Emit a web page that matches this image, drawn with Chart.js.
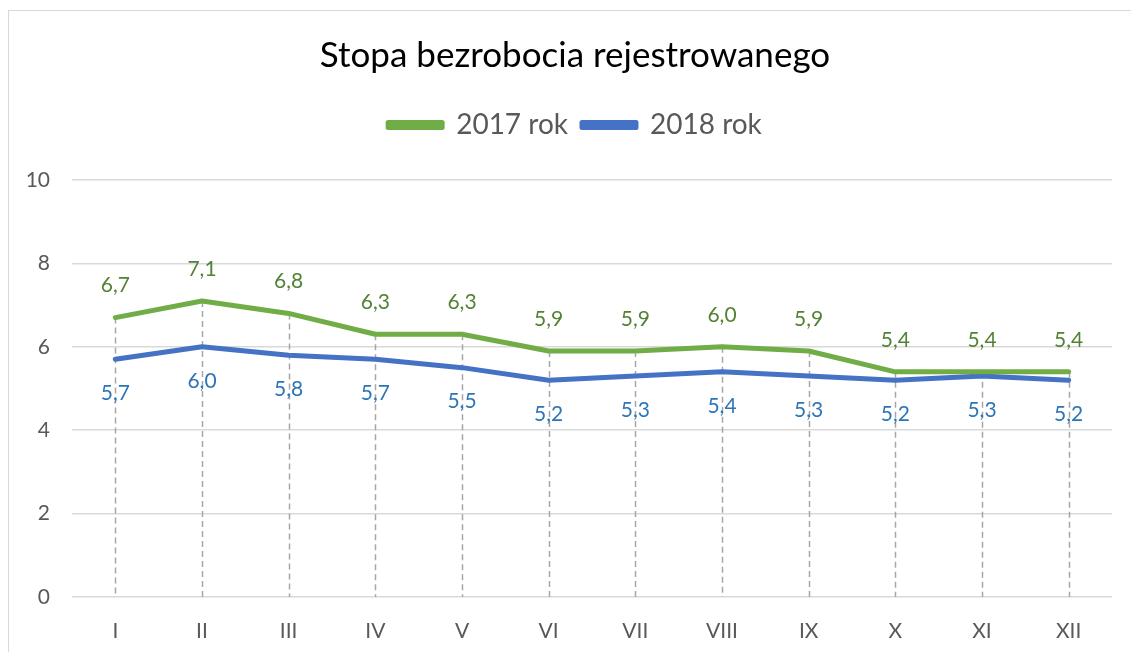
<!DOCTYPE html>
<html><head><meta charset="utf-8">
<script src="https://cdn.jsdelivr.net/npm/chart.js@4"></script>
<style>
html,body{margin:0;padding:0;background:#fff;}
#wrap{position:absolute;left:0;top:0;width:1131px;height:652px;}
#frame{position:absolute;left:8px;top:10px;width:1140px;height:660px;border:1px solid #d9d9d9;box-sizing:border-box;}
</style></head>
<body>
<div id="wrap"><div id="frame"></div><canvas id="c" width="1131" height="652"></canvas></div>
<script>
const categories = ["I","II","III","IV","V","VI","VII","VIII","IX","X","XI","XII"];
const values2017 = [6.7,7.1,6.8,6.3,6.3,5.9,5.9,6.0,5.9,5.4,5.4,5.4];
const values2018 = [5.7,6.0,5.8,5.7,5.5,5.2,5.3,5.4,5.3,5.2,5.3,5.2];
const yTicks = [0,2,4,6,8,10];
const FONT = "Lato, 'Open Sans', sans-serif";

const widenYLabelArea = {
  id:'widenYLabelArea',
  afterLayout(chart){ const y=chart.scales.y; y.left=0; }
};
const dropLines = {
  id:'dropLines',
  beforeDatasetsDraw(chart){
    const ctx=chart.ctx, x=chart.scales.x, y=chart.scales.y;
    ctx.save();
    ctx.strokeStyle='#a6a6a6'; ctx.lineWidth=1.5; ctx.setLineDash([6,4]);
    categories.forEach((c,i)=>{
      const px=Math.round(x.getPixelForValue(i))+0.5;
      const top=y.getPixelForValue(Math.max(values2017[i],values2018[i]));
      ctx.beginPath(); ctx.moveTo(px,top); ctx.lineTo(px,y.getPixelForValue(0)); ctx.stroke();
    });
    ctx.restore();
  }
};
const dataLabels = {
  id:'dataLabels',
  afterDatasetsDraw(chart){
    const ctx=chart.ctx, x=chart.scales.x, y=chart.scales.y;
    ctx.save();
    ctx.font="21px "+FONT; ctx.textAlign='center'; ctx.textBaseline='middle';
    categories.forEach((c,i)=>{
      const px=x.getPixelForValue(i);
      ctx.fillStyle='#548235';
      ctx.fillText(values2017[i].toFixed(1).replace('.',','),px,y.getPixelForValue(values2017[i])-32);
      ctx.fillStyle='#2e75b6';
      ctx.fillText(values2018[i].toFixed(1).replace('.',','),px,y.getPixelForValue(values2018[i])+34);
    });
    ctx.restore();
  }
};

new Chart(document.getElementById('c'),{
  type:'line',
  data:{labels:categories,datasets:[
    {label:'2017 rok',data:values2017,borderColor:'#70ad47',backgroundColor:'#70ad47',borderWidth:5,pointRadius:0,tension:0,borderCapStyle:'round',borderJoinStyle:'round'},
    {label:'2018 rok',data:values2018,borderColor:'#4472c4',backgroundColor:'#4472c4',borderWidth:5,pointRadius:0,tension:0,borderCapStyle:'round',borderJoinStyle:'round'}
  ]},
  options:{
    responsive:false,animation:false,
    layout:{padding:{top:10,left:38,right:19,bottom:10}},
    plugins:{
      title:{display:true,text:'Stopa bezrobocia rejestrowanego',color:'#000',font:{family:FONT,size:35,weight:'normal'},padding:{top:25,bottom:20}},
      subtitle:{display:true,text:' ',weight:500,font:{size:10},padding:{top:10,bottom:9}},
      legend:{display:true,labels:{color:'#595959',font:{family:FONT,size:28},boxWidth:54,boxHeight:5,padding:14},
        onClick:null},
      tooltip:{enabled:false}
    },
    scales:{
      x:{offset:true,grid:{display:false},border:{display:false},
        afterFit(s){s.height=45;},
        ticks:{color:'#595959',font:{family:FONT,size:21},padding:14}},
      y:{min:0,max:10,afterBuildTicks(s){s.ticks=yTicks.map(v=>({value:v}));},
        afterFit(s){s.width=34;},
        grid:{color:'#d9d9d9',lineWidth:1.5,drawTicks:false},border:{display:false},
        ticks:{color:'#595959',font:{family:FONT,size:21},padding:22}}
    }
  },
  plugins:[widenYLabelArea,dropLines,dataLabels]
});
</script>
</body></html>
